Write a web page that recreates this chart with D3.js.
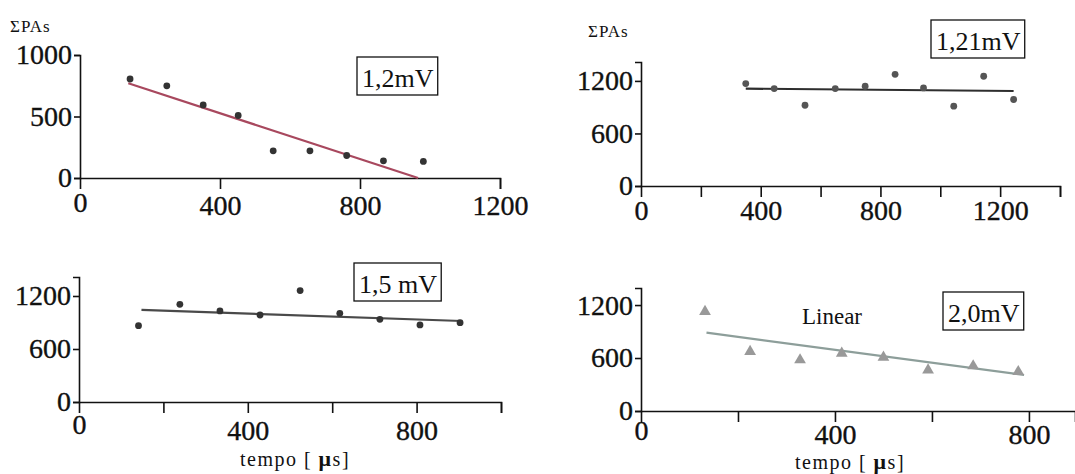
<!DOCTYPE html>
<html>
<head>
<meta charset="utf-8">
<script src="https://d3js.org/d3.v7.min.js"></script>
<style>
    body { margin: 0; background: #fff; }
    svg text { font-family: "Liberation Serif", "DejaVu Serif", serif; fill: #111; }
    .axis path, .axis line { stroke: #111; stroke-width: 1.6; }
    .axis text { font-size: 28px; stroke: #111; stroke-width: 0.35; }
</style>
</head>
<body>
<svg id="chart" width="1075" height="474"></svg>
<script>
// --- data ---
// panel 1 : 1,2 mV
const x12 = [143, 248, 352, 452, 552, 657, 762, 867, 981];
const y12 = [805, 749, 594, 508, 221, 221, 183, 140, 135];
const fit12 = [[138, 770], [966, 0]];

// panel 2 : 1,21 mV
const x121 = [350, 445, 548, 649, 749, 849, 944, 1045, 1145, 1245];
const y121 = [1170, 1112, 922, 1112, 1139, 1275, 1120, 911, 1253, 988];
const fit121 = [[350, 1112], [1245, 1085]];

// panel 3 : 1,5 mV
const x15 = [141, 239, 334, 429, 524, 618, 713, 808, 903];
const y15 = [864, 1106, 1031, 985, 1261, 1004, 936, 872, 898];
const fit15 = [[148, 1042], [907, 917]];

// panel 4 : 2,0 mV
const x20 = [132, 225, 328, 414, 500, 592, 685, 778];
const y20 = [1125, 672, 578, 653, 608, 464, 510, 445];
const fit20 = [[135, 887], [790, 408]];

// ticks
const yTicksA = [0, 500, 1000];
const yTicksB = [0, 600, 1200];
const xTicks1 = [0, 400, 800, 1200];
const xTicks2 = [0, 200, 400, 600, 800, 1000, 1200, 1400];
const xTicks3 = [0, 200, 400, 600, 800, 1000];
const xTicks4 = [0, 200, 400, 600, 800];

const svg = d3.select('#chart');

function panel(o) {
    const x = d3.scaleLinear().domain([0, o.xMax]).range([o.left, o.right]);
    const y = d3.scaleLinear().domain([0, o.yMax]).range([o.bottom, o.top]);
    const g = svg.append('g');

    // x axis
    const xa = g.append('g').attr('class', 'axis')
        .attr('transform', `translate(0,${o.bottom})`)
        .call(d3.axisBottom(x).tickValues(o.xTicks).tickSizeOuter(0)
            .tickSize(11).tickPadding(o.xPad)
            .tickFormat(d => d % 400 === 0 ? String(d) : ''));
    xa.selectAll('.tick').filter(d => d === 0).select('line').remove();
    xa.selectAll('.tick').filter(d => d === 0).select('text').attr('y', o.xPad + 11 - o.zeroLift);

    // y axis
    g.append('g').attr('class', 'axis')
        .attr('transform', `translate(${o.left},0)`)
        .call(d3.axisLeft(y).tickValues(o.yTicks).tickSizeOuter(0).tickSize(6).tickPadding(2)
            .tickFormat(d => String(d)));

    // fit line
    g.append('line')
        .attr('x1', x(o.fit[0][0])).attr('y1', y(o.fit[0][1]))
        .attr('x2', x(o.fit[1][0])).attr('y2', y(o.fit[1][1]))
        .attr('stroke', o.lineColor).attr('stroke-width', 2.2);

    // points
    const pts = o.xs.map((v, i) => [v, o.ys[i]]);
    if (o.tri) {
        g.selectAll('path.pt').data(pts).enter().append('path')
            .attr('class', 'pt')
            .attr('d', d3.symbol().type(d3.symbolTriangle).size(60))
            .attr('transform', d => `translate(${x(d[0])},${y(d[1])})`)
            .attr('fill', o.dotColor);
    } else {
        g.selectAll('circle').data(pts).enter().append('circle')
            .attr('cx', d => x(d[0])).attr('cy', d => y(d[1]))
            .attr('r', 3.4).attr('fill', o.dotColor);
    }

    // boxed label
    const t = g.append('text').attr('x', o.box[0]).attr('y', o.box[1])
        .attr('font-size', 26).text(o.label);
    const bb = t.node().getBBox();
    g.insert('rect', () => t.node())
        .attr('x', bb.x - 5).attr('y', o.box[1] - 30)
        .attr('width', bb.width + 9).attr('height', 38)
        .attr('fill', '#fff').attr('stroke', '#111').attr('stroke-width', 1.3);
    return {x, y, g};
}

panel({left: 80, right: 500, xMax: 1200, bottom: 178, top: 55, yMax: 1000,
    xTicks: xTicks1, yTicks: yTicksA, xPad: 6, zeroLift: 3,
    xs: x12, ys: y12, fit: fit12, lineColor: '#a8485e', dotColor: '#333',
    label: '1,2mV', box: [362, 87]});

panel({left: 641, right: 1060, xMax: 1400, bottom: 186, top: 62, yMax: 1416,
    xTicks: xTicks2, yTicks: yTicksB, xPad: 3, zeroLift: 0,
    xs: x121, ys: y121, fit: fit121, lineColor: '#2e2e2e', dotColor: '#555',
    label: '1,21mV', box: [936, 50]});

panel({left: 79, right: 501, xMax: 1000, bottom: 402, top: 277, yMax: 1415,
    xTicks: xTicks3, yTicks: yTicksB, xPad: 7, zeroLift: 6,
    xs: x15, ys: y15, fit: fit15, lineColor: '#4a4a4a', dotColor: '#333',
    label: '1,5 mV', box: [359, 293]});

panel({left: 641, right: 1075, xMax: 895, bottom: 411, top: 288, yMax: 1393,
    xTicks: xTicks4, yTicks: yTicksB, xPad: 2, zeroLift: 4,
    xs: x20, ys: y20, fit: fit20, lineColor: '#8d9e9a', dotColor: '#999',
    tri: true, label: '2,0mV', box: [948, 322]});

// axis titles and notes
svg.append('text').attr('x', 10).attr('y', 32).attr('font-size', 17)
    .attr('letter-spacing', 1).text('ΣPAs');
svg.append('text').attr('x', 588).attr('y', 37).attr('font-size', 17)
    .attr('letter-spacing', 1).text('ΣPAs');
svg.append('text').attr('x', 802).attr('y', 324).attr('font-size', 23).text('Linear');

function tempo(cx, yb) {
    const t = svg.append('text').attr('x', cx).attr('y', yb)
        .attr('font-size', 20).attr('letter-spacing', 1.5).attr('text-anchor', 'middle');
    t.append('tspan').text('tempo [ ');
    t.append('tspan').attr('font-weight', 'bold').attr('font-size', 22).text('μ');
    t.append('tspan').text('s]');
}
tempo(295, 466);
tempo(850, 469);
</script>
</body>
</html>
